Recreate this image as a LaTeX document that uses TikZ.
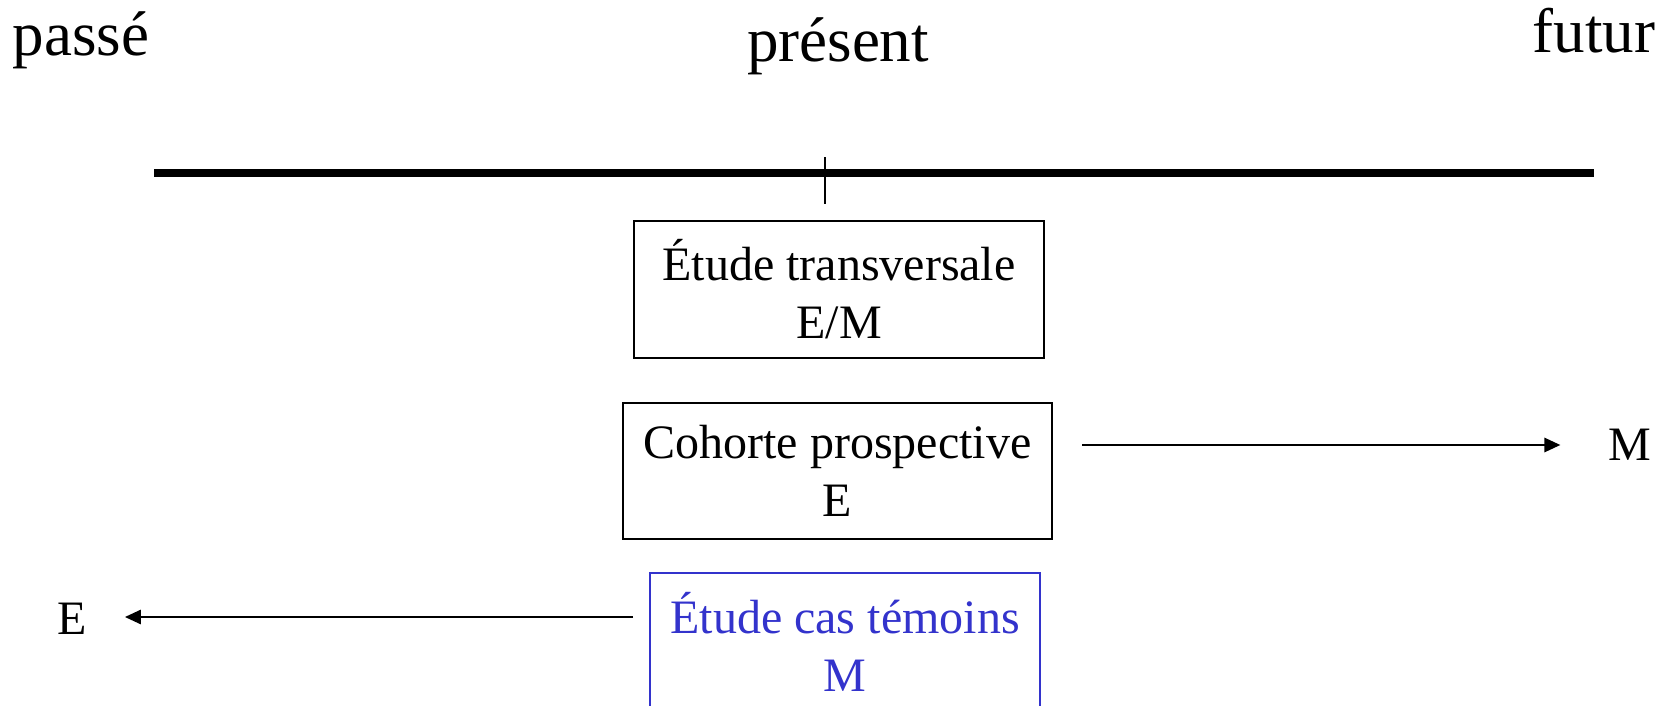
\documentclass[tikz,border=0pt]{standalone}
\usepackage{fontspec}
\setmainfont{Liberation Serif}
\usetikzlibrary{arrows.meta}
\definecolor{caseblue}{RGB}{51,51,204}
\begin{document}
\begin{tikzpicture}[x=1pt,y=-1pt,
  title/.style={font=\fontsize{63}{70}\selectfont, inner sep=0pt, anchor=base},
  lbl/.style={font=\fontsize{48}{52}\selectfont, inner sep=0pt, anchor=base},
  box/.style={draw, line width=1.6pt, align=center, inner sep=0pt,
    font=\fontsize{48}{58}\selectfont},
  arr/.style={line width=2.7pt, -{Triangle[length=16pt,width=14pt]}}]
\useasboundingbox (0,0) rectangle (1670,706);
\node[title] (passe) at (81,56) {passé};
\node[title] (present) at (838,62) {présent};
\node[title] (futur) at (1594,53) {futur};
\coordinate (tl) at (154,172.5);
\coordinate (tr) at (1594,172.5);
\draw[line width=8pt] (tl) -- (tr);
\coordinate (ticktop) at (825,157);
\coordinate (tickbot) at (825,204);
\draw[line width=1.8pt] (ticktop) -- (tickbot);
\node[box, minimum width=410pt, minimum height=137pt] (transv) at (839,289.5) {Étude transversale\\E/M};
\node[box, minimum width=429pt, minimum height=136pt] (cohorte) at (837.5,471) {Cohorte prospective\\E};
\node[box, draw=caseblue, text=caseblue, minimum width=390pt, minimum height=137pt] (cas) at (845,641.5) {Étude cas témoins\\M};
\node[lbl] (Mlab) at (1630,460) {M};
\node[lbl] (Elab) at (72,634) {E};
\coordinate (a1) at (1082,445);
\coordinate (a2) at (633,617);
\draw[arr, shorten >=48pt] (a1) -- (a1 -| Mlab.west);
\draw[arr, shorten >=38pt] (a2) -- (a2 -| Elab.east);
\end{tikzpicture}
\end{document}
